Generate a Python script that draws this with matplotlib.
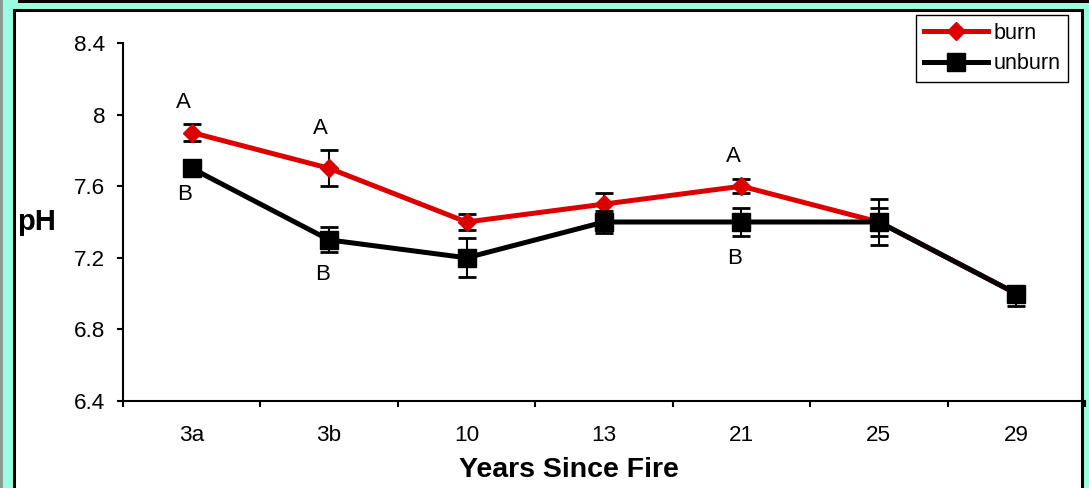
import matplotlib
matplotlib.use('Agg')
import matplotlib.pyplot as plt
from matplotlib.patches import Rectangle
import numpy as np

# ---- data ----
categories = ['3a', '3b', '10', '13', '21', '25', '29']
burn = [7.9, 7.7, 7.4, 7.5, 7.6, 7.4, 7.0]
burn_err = [0.045, 0.10, 0.045, 0.06, 0.04, 0.08, 0.03]
unburn = [7.7, 7.3, 7.2, 7.4, 7.4, 7.4, 7.0]
unburn_err_low = [0.02, 0.07, 0.11, 0.06, 0.08, 0.13, 0.07]
unburn_err_high = [0.02, 0.07, 0.11, 0.06, 0.08, 0.13, 0.0]
burn_letters = ['A', 'A', '', '', 'A', '', '']
unburn_letters = ['B', 'B', '', '', 'B', '', '']
yticks = [6.4, 6.8, 7.2, 7.6, 8.0, 8.4]
ytick_labels = ['6.4', '6.8', '7.2', '7.6', '8', '8.4']

plt.rcParams['font.family'] = ['Liberation Sans', 'DejaVu Sans']

W, H = 1089, 488
fig = plt.figure(figsize=(W / 100, H / 100), dpi=100, facecolor='#99FFE0')

# outer decorations
fig.add_artist(Rectangle((0, 0), 3 / W, 1, transform=fig.transFigure,
                         facecolor='#8a9a94', edgecolor='none', zorder=-10))
fig.add_artist(Rectangle((18 / W, (H - 3) / H), 1, 0.05, transform=fig.transFigure,
                         facecolor='black', edgecolor='none', zorder=-10))
fig.add_artist(Rectangle((13.5 / W, -20 / H), (1081.5 - 13.5) / W, (H - 10.5 + 20) / H,
                         transform=fig.transFigure, facecolor='white',
                         edgecolor='black', linewidth=2.2, zorder=-10))

ax = fig.add_axes([123 / W, (H - 401) / H, (1085 - 123) / W, (401 - 43) / H])
ax.set_zorder(5)
ax.set_facecolor('none')

x = np.arange(len(categories))
red = '#DD0000'

ax.errorbar(x, burn, yerr=burn_err, fmt='none', ecolor='black', elinewidth=1.5,
            capsize=6.4, capthick=2, zorder=2)
ax.plot(x, burn, color=red, lw=3.6, marker='D', ms=9.5, mfc=red, mec=red,
        zorder=3, label='burn')
ax.errorbar(x, unburn, yerr=[unburn_err_low, unburn_err_high], fmt='none', ecolor='black',
            elinewidth=1.5, capsize=6.4, capthick=2, zorder=4)
ax.plot(x, unburn, color='black', lw=3.6, marker='s', ms=13, mfc='black', mec='black',
        zorder=5, label='unburn')

for i in range(len(categories)):
    if burn_letters[i]:
        ax.annotate(burn_letters[i], (x[i], burn[i] + burn_err[i]), xytext=(-6, 16),
                    textcoords='offset points', ha='center', va='center', fontsize=16)
    if unburn_letters[i]:
        ax.annotate(unburn_letters[i], (x[i], unburn[i] - unburn_err_low[i]), xytext=(-5, -16),
                    textcoords='offset points', ha='center', va='center', fontsize=16)

ax.set_xlim(-0.5, len(categories) - 0.5)
ax.set_ylim(6.4, 8.4)
ax.set_xticks(x)
ax.set_xticklabels(categories)
ax.set_xticks(np.arange(-0.5, len(categories), 1.0), minor=True)
ax.tick_params(axis='x', which='major', length=0, pad=17, labelsize=16.2)
ax.tick_params(axis='x', which='minor', length=4.3, width=1.5, direction='out')
ax.set_yticks(yticks)
ax.set_yticklabels(ytick_labels)
ax.tick_params(axis='y', length=4.3, width=1.5, pad=8.6, labelsize=16.2)

for s in ['top', 'right']:
    ax.spines[s].set_visible(False)
for s in ['left', 'bottom']:
    ax.spines[s].set_linewidth(1.5)

fig.text(17 / W, (H - 222) / H, 'pH', fontsize=21, fontweight='bold', ha='left', va='center')
fig.text(569 / W, (H - 470) / H, 'Years Since Fire', fontsize=20.5, fontweight='bold',
         ha='center', va='center')

leg = ax.legend(loc='upper right', bbox_to_anchor=(1068 / W, (H - 15) / H),
                bbox_transform=fig.transFigure, frameon=True, fancybox=False,
                edgecolor='black', framealpha=1, fontsize=15.5, handlelength=3.0,
                handletextpad=0.25, borderpad=0.35, labelspacing=0.45, borderaxespad=0)
leg.get_frame().set_linewidth(1.0)

fig.savefig('out.png', dpi=100, facecolor=fig.get_facecolor())
